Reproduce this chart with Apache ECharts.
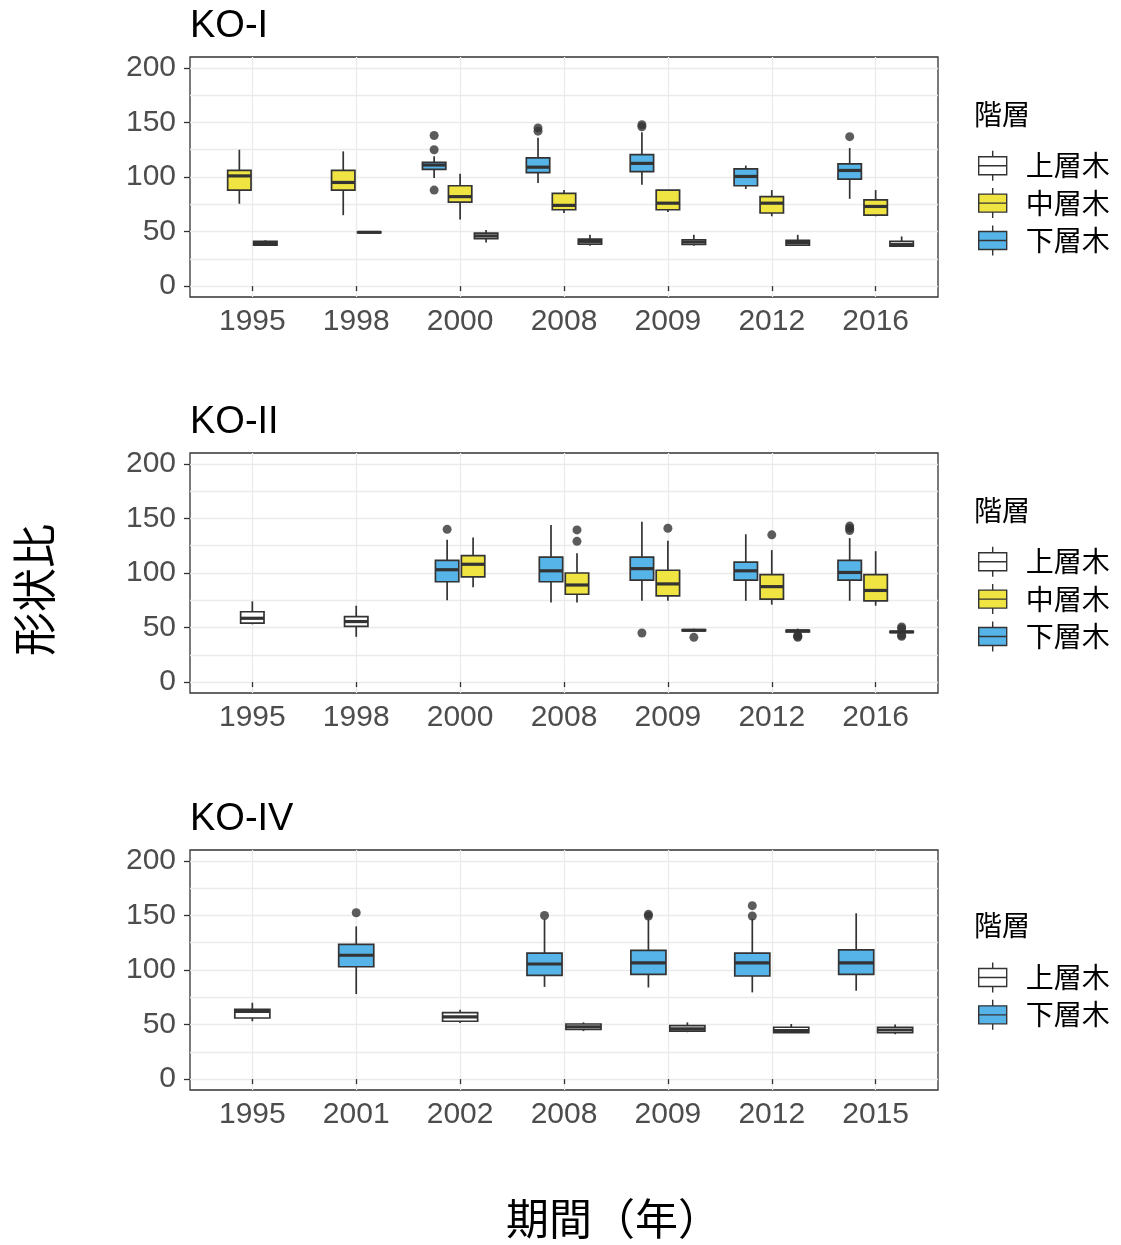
<!DOCTYPE html>
<html>
<head>
<meta charset="utf-8">
<script src="https://cdn.jsdelivr.net/npm/echarts@6/dist/echarts.min.js"></script>
<style>
  html, body { margin: 0; padding: 0; background: #fff; }
  #main { width: 1121px; height: 1245px; }
</style>
</head>
<body>
<div id="main"></div>
<script>
// layers (legend order) and the left-to-right order used inside a year
const layers = ['上層木', '中層木', '下層木'];
const dodgeOrder = ['下層木', '中層木', '上層木'];
const layerColors = { '上層木': '#FFFFFF', '中層木': '#F0E442', '下層木': '#56B4E9' };

const yTicks = [0, 50, 100, 150, 200];
const yGrid = [0, 25, 50, 75, 100, 125, 150, 175, 200];

// boxes: [min, Q1, median, Q3, max], null = no data that year
const yearsKO1 = ['1995', '1998', '2000', '2008', '2009', '2012', '2016'];
const ko1Upper = [[37, 37.5, 39, 41, 42], [48.5, 49, 49.3, 49.6, 50], [40, 43.5, 46, 48.5, 51.5], [37, 38.5, 41, 43, 47], [37, 38.3, 40.5, 42.5, 47], [37, 37.5, 40, 42, 47], [36, 36.5, 38, 41, 45.5]];
const ko1Middle = [[75.5, 88, 101, 106, 125], [65, 88, 95, 106, 123.5], [61, 77, 82, 92, 103], [67, 70, 74, 85, 88], [68, 70, 76, 88, 88], [64, 67, 76, 82, 88], [64, 65, 73, 79, 88]];
const ko1Lower = [null, null, [99, 107, 111, 113.5, 119], [94.5, 104, 109, 117.5, 136], [93, 105, 112.5, 120.5, 141], [89, 92, 100.5, 107.5, 110.5], [80, 98, 106, 112, 126.5]];
const ko1LowerOut = [['2000', 138], ['2000', 125], ['2000', 88], ['2008', 145], ['2008', 142], ['2009', 148], ['2009', 146], ['2016', 137]];

const yearsKO2 = ['1995', '1998', '2000', '2008', '2009', '2012', '2016'];
const ko2Upper = [[53, 54, 58.5, 64.5, 74], [41.5, 51, 55.5, 60, 70], null, null, [46.5, 47, 47.5, 48, 49], [45, 46, 47, 47.5, 49], [45, 45.5, 46, 46.5, 47.5]];
const ko2Middle = [null, null, [87, 96.5, 108, 116, 132.5], [73, 80.5, 89, 100, 118], [74.5, 79, 90, 102.5, 129.5], [71, 76, 87.5, 98.5, 121], [70, 74.5, 84, 98.5, 120]];
const ko2Lower = [null, null, [75, 92, 103, 111.5, 130.5], [73, 92, 102, 114.5, 144], [74.5, 93.5, 104, 114.5, 147], [74.5, 93.5, 102, 110, 135.5], [74.5, 93.5, 100.5, 111.5, 132]];
const ko2UpperOut = [['2009', 41], ['2012', 43], ['2012', 42], ['2012', 41], ['2016', 50.5], ['2016', 49], ['2016', 43], ['2016', 42]];
const ko2MiddleOut = [['2008', 139.5], ['2008', 129], ['2009', 141], ['2012', 135]];
const ko2LowerOut = [['2000', 140], ['2009', 45], ['2016', 143], ['2016', 141], ['2016', 139]];

const yearsKO4 = ['1995', '2001', '2002', '2008', '2009', '2012', '2015'];
const ko4Upper = [[53, 56, 62, 64, 70], null, [51.5, 53, 57, 61, 63.5], [44, 45.5, 48, 50.5, 52], [43, 44, 46, 49, 52], [42.5, 42.5, 44.5, 47.5, 50.5], [41, 42.5, 45, 47.5, 50]];
const ko4Lower = [null, [78, 103, 113.5, 123.5, 140], null, [84.5, 95, 105.5, 115.5, 146.5], [84, 96, 106.5, 118, 146.5], [79.5, 94.5, 106.5, 115.5, 147], [81, 96, 106.5, 118.5, 152]];
const ko4LowerOut = [['2001', 152.5], ['2008', 150], ['2009', 151], ['2009', 149.5], ['2012', 159], ['2012', 149.5]];

const panels = [
  { title: 'KO-I', years: yearsKO1, top: 57,
    boxes: { '上層木': ko1Upper, '中層木': ko1Middle, '下層木': ko1Lower },
    outliers: { '下層木': ko1LowerOut } },
  { title: 'KO-II', years: yearsKO2, top: 453,
    boxes: { '上層木': ko2Upper, '中層木': ko2Middle, '下層木': ko2Lower },
    outliers: { '上層木': ko2UpperOut, '中層木': ko2MiddleOut, '下層木': ko2LowerOut } },
  { title: 'KO-IV', years: yearsKO4, top: 850,
    boxes: { '上層木': ko4Upper, '下層木': ko4Lower },
    outliers: { '下層木': ko4LowerOut } }
];

const font = '"Liberation Sans", Arial, "Noto Sans CJK JP", sans-serif';
const cjkFont = '"Noto Sans CJK JP", sans-serif';
const panelH = 240;
const boxIcon = 'path://M14,0L14,6M0,6L28,6L28,24L0,24ZM0,15L28,15M14,24L14,30';

function makeBoxRenderer(boxW) {
  return function (params, api) {
    const x = api.value(0);
    const cx = api.coord([x, 0])[0];
    const y = [1, 2, 3, 4, 5].map(d => api.coord([x, api.value(d)])[1]);
    const half = api.size([boxW, 0])[0] / 2;
    const line = { stroke: '#333333', lineWidth: 1.7 };
    return {
      type: 'group',
      children: [
        { type: 'line', shape: { x1: cx, y1: y[4], x2: cx, y2: y[3] }, style: line },
        { type: 'line', shape: { x1: cx, y1: y[1], x2: cx, y2: y[0] }, style: line },
        { type: 'rect', shape: { x: cx - half, y: y[3], width: half * 2, height: y[1] - y[3] },
          style: { fill: api.visual('color'), stroke: '#333333', lineWidth: 1.7 } },
        { type: 'line', shape: { x1: cx - half, y1: y[2], x2: cx + half, y2: y[2] },
          style: { stroke: '#333333', lineWidth: 3.2 } }
      ]
    };
  };
}

const grids = [], xAxes = [], yAxes = [], series = [], titles = [], legends = [];

panels.forEach((p, pi) => {
  // which layers sit in each year, left to right
  const present = p.years.map((_, i) => dodgeOrder.filter(l => p.boxes[l] && p.boxes[l][i]));
  const maxN = Math.max(...present.map(a => a.length));
  const slot = 0.75 / maxN;
  const xPos = (l, i) => i + 1 + (present[i].indexOf(l) - (present[i].length - 1) / 2) * slot;

  grids.push({ left: 190, width: 748, top: p.top, height: panelH, show: true,
    borderColor: '#333333', borderWidth: 1.3, backgroundColor: '#fff' });

  xAxes.push({
    gridIndex: pi, type: 'value', min: 0.4, max: 7.6,
    axisLine: { show: false },
    axisTick: { customValues: [1, 2, 3, 4, 5, 6, 7], length: 5, lineStyle: { color: '#333333', width: 1.3 } },
    axisLabel: { customValues: [1, 2, 3, 4, 5, 6, 7], formatter: v => p.years[v - 1],
      fontSize: 30, color: '#4D4D4D', fontFamily: font, margin: 10 },
    splitLine: { show: true, lineStyle: { color: '#EBEBEB', width: 1.3 } }
  });

  yAxes.push({
    gridIndex: pi, type: 'value', min: -10, max: 210,
    axisLine: { show: false },
    axisTick: { show: false, customValues: yGrid },
    axisLabel: { show: false },
    splitLine: { show: true, lineStyle: { color: '#EBEBEB', width: 1.3 } }
  });
  yAxes.push({
    gridIndex: pi, type: 'value', min: -10, max: 210, position: 'left',
    axisLine: { show: false },
    axisTick: { show: true, customValues: yTicks, length: 6, lineStyle: { color: '#333333', width: 1.3 } },
    axisLabel: { customValues: yTicks, fontSize: 30, color: '#4D4D4D', fontFamily: font, margin: 14,
      padding: [6, 0, 0, 0] },
    splitLine: { show: false }
  });

  const inPanel = layers.filter(l => p.boxes[l]);
  inPanel.forEach(l => {
    const data = [];
    p.boxes[l].forEach((b, i) => { if (b) data.push([xPos(l, i)].concat(b)); });
    series.push({
      type: 'custom', name: l, xAxisIndex: pi, yAxisIndex: pi * 2,
      renderItem: makeBoxRenderer(slot * 0.9),
      itemStyle: { color: layerColors[l], borderColor: '#333333', borderWidth: 1.6 },
      encode: { x: 0, y: [1, 2, 3, 4, 5] },
      data: data, z: 3
    });
    if (p.outliers[l]) {
      series.push({
        type: 'scatter', name: l + ' outlier', xAxisIndex: pi, yAxisIndex: pi * 2,
        symbolSize: 9, itemStyle: { color: '#333333' }, z: 4,
        data: p.outliers[l].map(o => [xPos(l, p.years.indexOf(o[0])), o[1]])
      });
    }
  });

  // legend is centred on the panel, so shorter lists sit lower
  const legendTop = p.top + 88 + (3 - inPanel.length) * 18.75;
  titles.push({ text: p.title, left: 185, top: p.top - 54,
    textStyle: { fontSize: 38, fontWeight: 'normal', color: '#000', fontFamily: font } });
  titles.push({ text: '階層', left: 969, top: legendTop - 50,
    textStyle: { fontSize: 28, fontWeight: 'normal', color: '#000', fontFamily: cjkFont } });
  legends.push({
    orient: 'vertical', left: 973, top: legendTop, selectedMode: false,
    itemWidth: 28, itemHeight: 30, itemGap: 6,
    data: inPanel.map(l => ({ name: l, icon: boxIcon })),
    itemStyle: { borderColor: '#333333', borderWidth: 1.4 },
    textStyle: { fontSize: 28, color: '#000', fontFamily: cjkFont, padding: [0, 0, 0, 14] }
  });
});

const chart = echarts.init(document.getElementById('main'), null, { renderer: 'canvas' });
chart.setOption({
  backgroundColor: '#fff',
  animation: false,
  title: titles,
  legend: legends,
  grid: grids,
  xAxis: xAxes,
  yAxis: yAxes,
  series: series,
  graphic: [
    { type: 'text', x: 34, y: 590, rotation: Math.PI / 2,
      style: { text: '形状比', fontSize: 44, fill: '#000', fontFamily: cjkFont, align: 'center', verticalAlign: 'middle' } },
    { type: 'text', x: 506, y: 1219,
      style: { text: '期間（年）', fontSize: 43, fill: '#000', fontFamily: cjkFont, align: 'left', verticalAlign: 'middle' } }
  ]
});
</script>
</body>
</html>
